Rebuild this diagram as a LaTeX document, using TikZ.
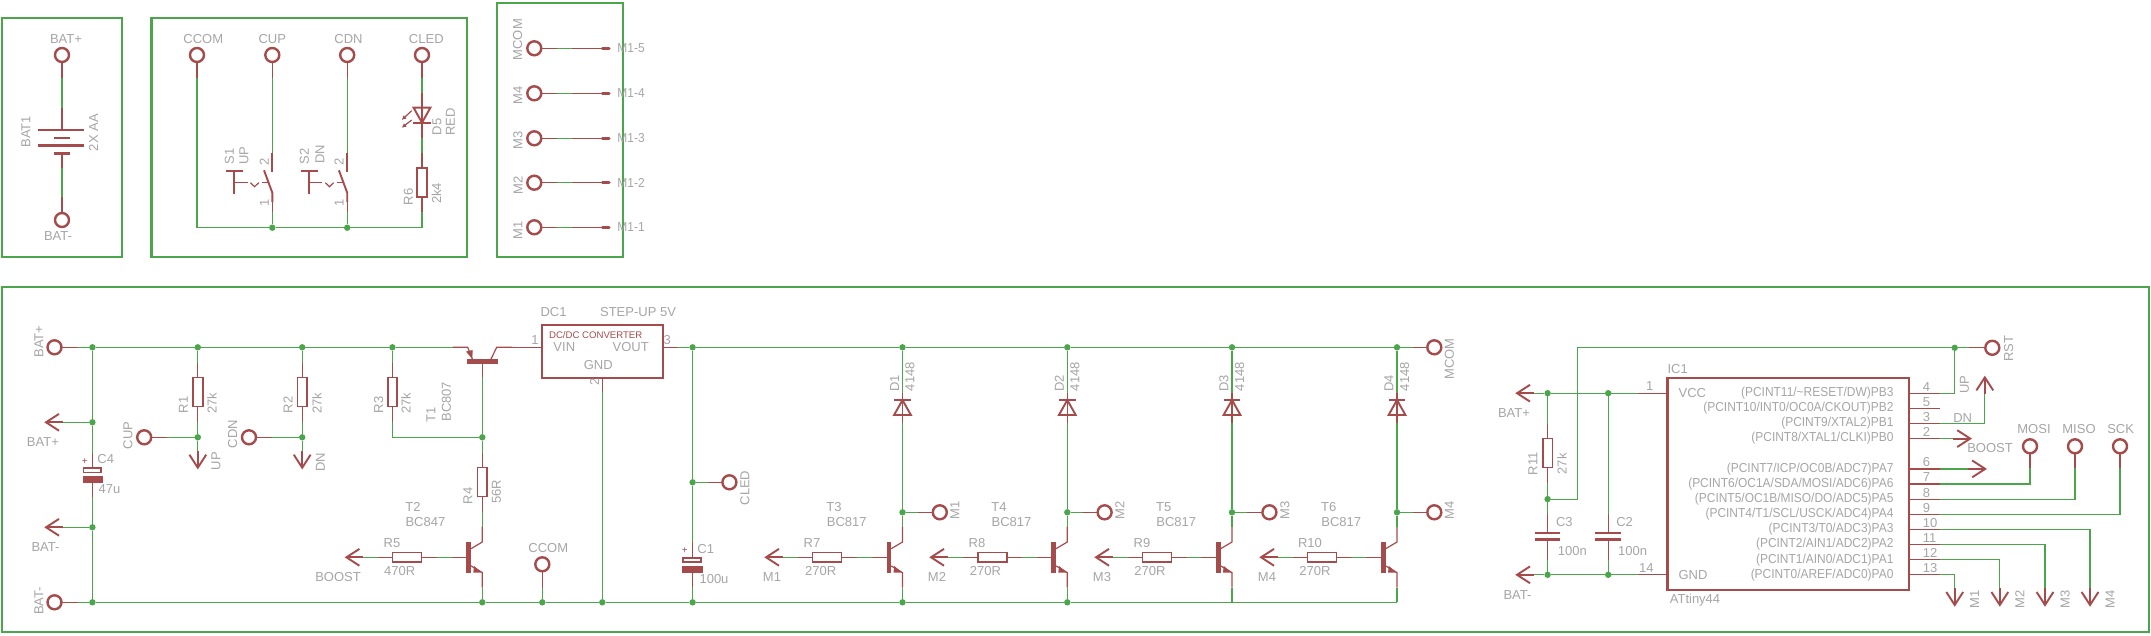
\documentclass[tikz,border=0pt]{standalone}
\usepackage{fontspec}
\setmainfont{Liberation Sans}
\newfontfamily\portfont[FakeStretch=0.92]{Liberation Sans}
\usetikzlibrary{arrows.meta}
\definecolor{netgreen}{HTML}{4BA54B}
\definecolor{partred}{HTML}{A54B4B}
\definecolor{labelgray}{HTML}{A5A5A5}
\tikzset{
  sheetframe/.style={draw=netgreen, line width=2.2},
  wire/.style={draw=netgreen, line width=1.2},
  pinline/.style={draw=partred, line width=1.2},
  symline/.style={draw=partred, line width=1.9},
  padring/.style={circle, draw=partred, line width=2.4, minimum size=14, inner sep=0, outer sep=0},
  junction/.style={circle, fill=netgreen, minimum size=6.4, inner sep=0, outer sep=0},
  resvbody/.style={draw=partred, line width=1.8, minimum width=9.6, minimum height=29, inner sep=0, outer sep=0},
  reshbody/.style={draw=partred, line width=1.8, minimum width=29, minimum height=9.6, inner sep=0, outer sep=0},
  partbox/.style={draw=partred, line width=2.2, inner sep=0, outer sep=0},
  lbl/.style={text=labelgray, font=\fontsize{13}{15}\selectfont, inner sep=0},
  lblr/.style={lbl, rotate=90},
  polsign/.style={text=partred, font=\fontsize{10}{11}\selectfont, inner sep=0}
}
% pad with its pin: name, x, y, x and y of the pin end
\newcommand{\padpin}[5]{\node[padring] (#1) at (#2,#3) {};
  \coordinate (#1-w) at (#4,#5);
  \draw[pinline] (#1) -- (#1-w);}
% upright resistor: name, x, y
\newcommand{\resv}[3]{\node[resvbody] (#1) at (#2,#3) {};
  \draw[pinline] (#1.north) -- ++(0,-15) coordinate (#1-a);
  \draw[pinline] (#1.south) -- ++(0,15) coordinate (#1-b);}
% lying resistor: name, x, y
\newcommand{\resh}[3]{\node[reshbody] (#1) at (#2,#3) {};
  \draw[pinline] (#1.west) -- ++(-15,0) coordinate (#1-a);
  \draw[pinline] (#1.east) -- ++(15,0) coordinate (#1-b);}
% open arrow pin: name, tip x, tip y, angle
\newcommand{\arrowpin}[4]{\begin{scope}[shift={(#2,#3)},rotate=#4]
  \draw[symline] (13,-8.4) -- (0,0) -- (13,8.4);
  \draw[symline] (0,0) -- (17,0);
  \coordinate (#1-w) at (17,0);
  \end{scope}}
% npn transistor: name, x of collector and emitter, y of base
\newcommand{\npn}[3]{\begin{scope}[shift={(#2,#3)}]
  \fill[partred] (-16,-15.3) rectangle (-11.3,15.3);
  \draw[pinline] (-11.3,-8.6) -- (0,-15.3) -- (0,-30.6) coordinate (#1-c);
  \draw[pinline] (-11.3,8.6) -- (0,15.3) -- (0,30.4) coordinate (#1-e);
  \draw[pinline] (-16,0) -- (-30.6,0) coordinate (#1-b);
  \fill[partred] (-8.3,8.7) -- (0,15.4) -- (-9,15.4) -- cycle;
  \end{scope}}
% diode, bar on top: name, x
\newcommand{\diodeup}[2]{\coordinate (#1-a) at (#2,392.7);
  \coordinate (#1-b) at (#2,422.7);
  \draw[pinline] (#1-a) -- (#1-b);
  \draw[symline] (#2-8.4,400) -- (#2+8.4,400);
  \draw[symline] (#2,400) -- (#2-8.4,415) -- (#2+8.4,415) -- cycle;}
% push switch: name, x of the contact
\newcommand{\pushsw}[2]{\begin{scope}[shift={(#2,0)}]
  \coordinate (#1-t) at (0,153.3);
  \coordinate (#1-b) at (0,212.3);
  \draw[symline] (#1-t) -- (0,172);
  \draw[symline] (-8.3,170.3) -- (0,192.7) -- (0,202);
  \draw[pinline] (0,202) -- (#1-b);
  \draw[symline] (-45.9,171) -- (-29.5,171);
  \draw[symline] (-38.3,171) -- (-38.3,194.3);
  \draw[pinline] (-38.3,182.7) -- (-24.8,182.7);
  \draw[pinline] (-21.9,182.7) -- (-17.7,186.7) -- (-13.5,182.7);
  \draw[pinline] (-10.3,182.7) -- (-2.9,182.7);
  \end{scope}}
% ic pin on the right side: name, y, number, port text
\newcommand{\icpin}[4]{\coordinate (#1) at (1940,#2);
  \draw[pinline] (1909,#2) -- (#1);
  \node[lbl, anchor=west] (#1-n) at (1922.7,#2-6.5) {#3};
  \node[lbl, anchor=east] (#1-t) at (1893.6,#2) {\portfont #4};}
% motor header line: name, y, text
\newcommand{\mline}[3]{\padpin{#1}{534.3}{#2}{557.3}{#2}
  \coordinate (#1-h) at (572.3,#2);
  \draw[wire] (#1-w) -- (#1-h);
  \draw[pinline] (#1-h) -- (600.7,#2);
  \draw[partred, line width=3.4, line cap=round] (602.4,#2) -- (609,#2);
  \node[lbl, anchor=west] (#1-t) at (617.2,#2) {\portfont #3};}

\begin{document}
\begin{tikzpicture}[x=1pt,y=-1pt]
\useasboundingbox (0,0) rectangle (2151,636);
\draw[sheetframe] (2,18) rectangle (122,256.7);
\draw[sheetframe] (151.5,18) rectangle (467,256.7);
\draw[sheetframe] (496.6,2.8) rectangle (623,256.7);
\draw[sheetframe] (2,286.7) rectangle (2149,631.7);

% battery
\padpin{batp}{62}{55}{62}{78}
\padpin{batm}{62}{220}{62}{197}
\node[lbl] (batpt) at (66,39) {BAT+};
\node[lbl] (batmt) at (58,236) {BAT-};
\coordinate (bat-a) at (62,108);
\coordinate (bat-b) at (62,168);
\draw[wire] (batp-w) -- (bat-a);
\draw[wire] (bat-b) -- (batm-w);
\draw[pinline] (bat-a) -- (62,130);
\draw[pinline] (62,153.3) -- (bat-b);
\draw[partred, line width=2.8] (38,130) -- (84,130);
\draw[partred, line width=2.8] (53.5,138) -- (69.5,138);
\draw[partred, line width=2.8] (38,145.3) -- (84,145.3);
\draw[partred, line width=2.8] (53.5,153.3) -- (69.5,153.3);
\node[lblr] (bat1t) at (26,131.7) {BAT1};
\node[lblr] (bat1v) at (93.5,132.7) {2X AA};

% controls
\padpin{sccom}{197}{55}{197}{78}
\padpin{scup}{272.3}{55}{272.3}{78}
\padpin{scdn}{347.2}{55}{347.2}{78}
\padpin{scled}{422}{55}{422}{78}
\node[lbl] (sccomt) at (203.3,39) {CCOM};
\node[lbl] (scupt) at (272.3,39) {CUP};
\node[lbl] (scdnt) at (348.5,39) {CDN};
\node[lbl] (scledt) at (426.3,39) {CLED};
\pushsw{s1}{272.3}
\pushsw{s2}{347.2}
\node[lblr] (s1t) at (229.4,156.7) {S1};
\node[lblr] (s1v) at (244,155.7) {UP};
\node[lblr] (s1p2) at (264.3,161.7) {2};
\node[lblr] (s1p1) at (264.3,203.3) {1};
\node[lblr] (s2t) at (304.3,156.7) {S2};
\node[lblr] (s2v) at (319.9,154) {DN};
\node[lblr] (s2p2) at (339.2,161.7) {2};
\node[lblr] (s2p1) at (339.2,203.3) {1};
\coordinate (d5-a) at (422,93.3);
\coordinate (d5-b) at (422,138.3);
\draw[pinline] (d5-a) -- (d5-b);
\draw[symline] (413.6,107.7) -- (430.4,107.7) -- (422,122.7) -- cycle;
\draw[symline] (413.4,122.7) -- (430.6,122.7);
\draw[partred, line width=1.2, -{Latex[length=4.5,width=4.5]}] (411.7,110.7) -- (401.7,120);
\draw[partred, line width=1.2, -{Latex[length=4.5,width=4.5]}] (411.7,120) -- (401.7,127.8);
\node[lblr] (d5t) at (437,126.7) {D5};
\node[lblr] (d5v) at (450.3,122) {RED};
\resv{r6}{422}{182.3}
\node[lblr] (r6t) at (408.3,196.7) {R6};
\node[lblr] (r6v) at (436.3,193.3) {2k4};
\node[junction] (jsw1) at (272.3,227.7) {};
\node[junction] (jsw2) at (347.2,227.7) {};
\draw[wire] (sccom-w) |- (jsw1) -- (jsw2) -| (r6-b);
\draw[wire] (scup-w) -- (s1-t);
\draw[wire] (scdn-w) -- (s2-t);
\draw[wire] (s1-b) -- (jsw1);
\draw[wire] (s2-b) -- (jsw2);
\draw[wire] (scled-w) -- (d5-a);
\draw[wire] (d5-b) -- (r6-a);

% motor header
\mline{m5}{48.3}{M1-5}
\mline{m4}{93.3}{M1-4}
\mline{m3}{138.3}{M1-3}
\mline{m2}{182.7}{M1-2}
\mline{m1}{227.3}{M1-1}
\node[lblr] (m5n) at (517.7,39.7) {MCOM};
\node[lblr] (m4n) at (518,95.3) {M4};
\node[lblr] (m3n) at (518,140.7) {M3};
\node[lblr] (m2n) at (518,185.7) {M2};
\node[lblr] (m1n) at (518,230.7) {M1};

% input side
\padpin{pbatp}{54.5}{347.3}{78}{347.3}
\padpin{pbatm}{54.5}{602.3}{78}{602.3}
\node[lblr] (pbatpt) at (38.8,341.7) {BAT+};
\node[lblr] (pbatmt) at (38.8,601) {BAT-};
\node[junction] (jt1) at (92.4,347.3) {};
\node[junction] (jt2) at (197.8,347.3) {};
\node[junction] (jt3) at (302.2,347.3) {};
\node[junction] (jt4) at (392.4,347.3) {};
\node[junction] (jb1) at (92.4,602.3) {};
\node[junction] (jb2) at (482.3,602.3) {};
\node[junction] (jb3) at (542.3,602.3) {};
\node[junction] (jb4) at (602.3,602.3) {};
\node[junction] (jb5) at (692.6,602.3) {};
\node[junction] (jb6) at (902.5,602.3) {};
\node[junction] (jb7) at (1067.3,602.3) {};
\coordinate (jb8) at (1232,602.3);
\coordinate (jb9) at (1397,602.3);
\node[junction] (jbp) at (92.4,422.3) {};
\node[junction] (jbm) at (92.4,527.3) {};
\arrowpin{abp}{46}{422.3}{0}
\arrowpin{abm}{46}{527.3}{0}
\node[lbl] (abpt) at (42.9,442.3) {BAT+};
\node[lbl] (abmt) at (45.5,547) {BAT-};
\draw[wire] (abp-w) -- (jbp);
\draw[wire] (abm-w) -- (jbm);
\coordinate (c4-a) at (92.4,453.3);
\coordinate (c4-b) at (92.4,496.7);
\draw[pinline] (c4-a) -- (92.4,466.7);
\draw[pinline] (92.4,476) -- (c4-b);
\draw[partred, line width=1.8] (83.5,467.6) rectangle (101.3,472.4);
\fill[partred] (82.6,476) rectangle (103,482.7);
\node[polsign] (c4p) at (84.8,461.7) {+};
\node[lbl] (c4t) at (105.8,459.3) {C4};
\node[lbl] (c4v) at (109.4,489.3) {47u};
\draw[wire] (jt1) -- (jbp) -- (c4-a);
\draw[wire] (c4-b) -- (jbm) -- (jb1);

% divider resistors
\resv{r1}{197.8}{392}
\resv{r2}{302.2}{392}
\resv{r3}{392.4}{392}
\node[lblr] (r1t) at (183.5,405) {R1};
\node[lblr] (r1v) at (212,403.3) {27k};
\node[lblr] (r2t) at (288,405) {R2};
\node[lblr] (r2v) at (317,403.3) {27k};
\node[lblr] (r3t) at (378.6,405) {R3};
\node[lblr] (r3v) at (406,403.3) {27k};
\node[junction] (ju1) at (197.8,437.3) {};
\node[junction] (ju2) at (302.2,437.3) {};
\node[junction] (ju3) at (482.3,437.3) {};
\padpin{pcup}{144.2}{437.3}{167.4}{437.3}
\padpin{pcdn}{249}{437.3}{272.3}{437.3}
\node[lblr] (pcupt) at (128,435.3) {CUP};
\node[lblr] (pcdnt) at (232.6,434) {CDN};
\arrowpin{aup}{197.8}{467.7}{90}
\arrowpin{adn}{302.2}{467.7}{90}
\node[lblr] (aupt) at (216,461) {UP};
\node[lblr] (adnt) at (320.5,462) {DN};
\draw[wire] (jt2) -- (r1-a);
\draw[wire] (jt3) -- (r2-a);
\draw[wire] (jt4) -- (r3-a);
\draw[wire] (r1-b) -- (ju1) -- (aup-w);
\draw[wire] (r2-b) -- (ju2) -- (adn-w);
\draw[wire] (pcup-w) -- (ju1);
\draw[wire] (pcdn-w) -- (ju2);
\draw[wire] (r3-b) |- (ju3);

% T1 and T2
\coordinate (t1-e) at (452.7,347.3);
\coordinate (t1-c) at (512.3,347.3);
\coordinate (t1-b) at (482.3,377.3);
\fill[partred] (467,359) rectangle (498,363.7);
\draw[pinline] (t1-e) -- (467.7,347.3) -- (472.3,359);
\draw[pinline] (t1-c) -- (496.7,347.3) -- (491,359);
\draw[pinline] (482.3,363.7) -- (t1-b);
\fill[partred] (466,351.6) -- (472.7,350) -- (472.3,359) -- cycle;
\node[lblr] (t1t) at (431,415) {T1};
\node[lblr] (t1v) at (446.4,401.7) {BC807};
\resv{r4}{482.3}{482}
\node[lblr] (r4t) at (467.9,496) {R4};
\node[lblr] (r4v) at (496.4,491.7) {56R};
\npn{t2}{482.3}{557.3}
\resh{r5}{407}{557.3}
\arrowpin{aboost}{346.4}{557.3}{0}
\node[lbl] (t2t) at (413,507) {T2};
\node[lbl] (t2v) at (425.4,522) {BC847};
\node[lbl] (r5t) at (392,543.3) {R5};
\node[lbl] (r5v) at (399.6,571) {470R};
\node[lbl] (aboostt) at (338,576.7) {BOOST};
\draw[wire] (jt1) -- (jt2) -- (jt3) -- (jt4) -- (t1-e);
\draw[wire] (pbatp-w) -- (jt1);
\draw[wire] (t1-b) -- (ju3) -- (r4-a);
\draw[wire] (r4-b) -- (t2-c);
\draw[wire] (t2-e) -- (jb2);
\draw[wire] (t2-b) -- (r5-b);
\draw[wire] (r5-a) -- (aboost-w);
\padpin{pccom}{542.3}{564.3}{542.3}{587.7}
\node[lbl] (pccomt) at (548.3,547.7) {CCOM};
\draw[wire] (pccom-w) -- (jb3);

% converter
\node[partbox, minimum width=121, minimum height=52.7] (dc1) at (602.8,351.35) {};
\coordinate (dc1-o) at (677.7,347.3);
\coordinate (dc1-g) at (602.3,392.3);
\draw[pinline] (t1-c) -- (542.3,347.3);
\draw[pinline] (663.3,347.3) -- (dc1-o);
\draw[pinline] (602.3,377.7) -- (dc1-g);
\node[text=partred, font=\fontsize{9.6}{11}\selectfont, inner sep=0] (dc1n) at (595.7,335.3) {DC/DC CONVERTER};
\node[lbl] (dc1vin) at (564.3,347.3) {VIN};
\node[lbl] (dc1vout) at (630.7,347.3) {VOUT};
\node[lbl] (dc1gnd) at (598.3,365.3) {GND};
\node[lbl] (dc1p1) at (535,340.3) {1};
\node[lbl] (dc1p3) at (667.3,340.3) {3};
\node[lblr] (dc1p2) at (594.7,382.3) {2};
\node[lbl] (dc1t) at (553.6,312) {DC1};
\node[lbl] (dc1v) at (638,312) {STEP-UP 5V};
\draw[wire] (dc1-g) -- (jb4);

% output side
\node[junction] (jo1) at (692.6,347.3) {};
\node[junction] (jo2) at (902.5,347.3) {};
\node[junction] (jo3) at (1067.3,347.3) {};
\node[junction] (jo4) at (1232,347.3) {};
\node[junction] (jo5) at (1397,347.3) {};
\node[junction] (jled) at (692.6,482.3) {};
\padpin{pmcom}{1434.3}{347.3}{1413}{347.3}
\node[lblr] (pmcomt) at (1449.5,359) {MCOM};
\padpin{pcled}{729.4}{482.3}{708}{482.3}
\node[lblr] (pcledt) at (745,488) {CLED};
\draw[wire] (pcled-w) -- (jled);
\coordinate (c1-a) at (692.6,541.7);
\coordinate (c1-b) at (692.6,586.7);
\draw[pinline] (c1-a) -- (692.6,556.7);
\draw[pinline] (692.6,566) -- (c1-b);
\draw[partred, line width=1.8] (682.9,557.6) rectangle (700.9,561.8);
\fill[partred] (682,566) rectangle (702.8,573);
\node[polsign] (c1p) at (684.8,550.7) {+};
\node[lbl] (c1t) at (705.7,549) {C1};
\node[lbl] (c1v) at (714,579.3) {100u};
\draw[wire] (dc1-o) -- (jo1) -- (jo2) -- (jo3) -- (jo4) -- (jo5) -- (pmcom-w);
\draw[wire] (jo1) -- (jled) -- (c1-a);
\draw[wire] (c1-b) -- (jb5);
\draw[wire] (pbatm-w) -- (jb1) -- (jb2) -- (jb3) -- (jb4) -- (jb5) -- (jb6) -- (jb7) -- (jb8) -- (jb9);

% drivers
\diodeup{d1}{902.5}
\npn{t3}{902.5}{557.3}
\resh{r7}{827}{557.3}
\arrowpin{am1}{766}{557.3}{0}
\node[junction] (jm1) at (902.5,512.3) {};
\padpin{pm1}{939.8}{512.3}{917.5}{512.3}
\node[lblr] (pm1t) at (954.8,510.7) {M1};
\node[lblr] (d1t) at (894.7,383.3) {D1};
\node[lblr] (d1v) at (910,376.7) {4148};
\node[lbl] (t3t) at (834,507.3) {T3};
\node[lbl] (t3v) at (846.7,522) {BC817};
\node[lbl] (r7t) at (812,543.3) {R7};
\node[lbl] (r7v) at (820.6,571) {270R};
\node[lbl] (am1t) at (772,577.3) {M1};
\draw[wire] (jo2) -- (d1-a);
\draw[wire] (d1-b) -- (jm1) -- (t3-c);
\draw[wire] (t3-e) -- (jb6);
\draw[wire] (t3-b) -- (r7-b);
\draw[wire] (r7-a) -- (am1-w);
\draw[wire] (jm1) -- (pm1-w);

\diodeup{d2}{1067.3}
\npn{t4}{1067.3}{557.3}
\resh{r8}{992.2}{557.3}
\arrowpin{am2}{931}{557.3}{0}
\node[junction] (jm2) at (1067.3,512.3) {};
\padpin{pm2}{1104.6}{512.3}{1082.3}{512.3}
\node[lblr] (pm2t) at (1119.7,510.7) {M2};
\node[lblr] (d2t) at (1059.3,383.3) {D2};
\node[lblr] (d2v) at (1075,376.7) {4148};
\node[lbl] (t4t) at (999,507.3) {T4};
\node[lbl] (t4v) at (1011.5,522) {BC817};
\node[lbl] (r8t) at (977,543.3) {R8};
\node[lbl] (r8v) at (985.4,571) {270R};
\node[lbl] (am2t) at (937,577.3) {M2};
\draw[wire] (jo3) -- (d2-a);
\draw[wire] (d2-b) -- (jm2) -- (t4-c);
\draw[wire] (t4-e) -- (jb7);
\draw[wire] (t4-b) -- (r8-b);
\draw[wire] (r8-a) -- (am2-w);
\draw[wire] (jm2) -- (pm2-w);

\diodeup{d3}{1232}
\npn{t5}{1232}{557.3}
\resh{r9}{1157}{557.3}
\arrowpin{am3}{1096}{557.3}{0}
\node[junction] (jm3) at (1232,512.3) {};
\padpin{pm3}{1269.4}{512.3}{1247}{512.3}
\node[lblr] (pm3t) at (1285,510.7) {M3};
\node[lblr] (d3t) at (1224,383.3) {D3};
\node[lblr] (d3v) at (1239.7,376.7) {4148};
\node[lbl] (t5t) at (1163.7,507.3) {T5};
\node[lbl] (t5v) at (1176.2,522) {BC817};
\node[lbl] (r9t) at (1142,543.3) {R9};
\node[lbl] (r9v) at (1150,571) {270R};
\node[lbl] (am3t) at (1102,577.3) {M3};
\draw[wire] (jo4) -- (d3-a);
\draw[wire] (d3-b) -- (jm3) -- (t5-c);
\draw[wire] (t5-e) -- (jb8);
\draw[wire] (t5-b) -- (r9-b);
\draw[wire] (r9-a) -- (am3-w);
\draw[wire] (jm3) -- (pm3-w);

\diodeup{d4}{1397}
\npn{t6}{1397}{557.3}
\resh{r10}{1322}{557.3}
\arrowpin{am4}{1261}{557.3}{0}
\node[junction] (jm4) at (1397,512.3) {};
\padpin{pm4}{1434.3}{512.3}{1413}{512.3}
\node[lblr] (pm4t) at (1449.5,510.7) {M4};
\node[lblr] (d4t) at (1389,383.3) {D4};
\node[lblr] (d4v) at (1404.7,376.7) {4148};
\node[lbl] (t6t) at (1328.7,507.3) {T6};
\node[lbl] (t6v) at (1341.2,522) {BC817};
\node[lbl] (r10t) at (1310,543.3) {R10};
\node[lbl] (r10v) at (1315,571) {270R};
\node[lbl] (am4t) at (1267,577.3) {M4};
\draw[wire] (jo5) -- (d4-a);
\draw[wire] (d4-b) -- (jm4) -- (t6-c);
\draw[wire] (t6-e) -- (jb9);
\draw[wire] (t6-b) -- (r10-b);
\draw[wire] (r10-a) -- (am4-w);
\draw[wire] (jm4) -- (pm4-w);

% controller
\node[partbox, minimum width=241.5, minimum height=211.9] (ic1) at (1788.25,483.65) {};
\node[lbl] (ic1t) at (1677.7,369) {IC1};
\node[lbl] (ic1v) at (1695,600) {ATtiny44};
\node[lbl] (icvcc) at (1692.3,393.2) {VCC};
\node[lbl] (icgnd) at (1693,574.8) {GND};
\coordinate (p1) at (1638.3,393.2);
\coordinate (p14) at (1638.3,574.8);
\draw[pinline] (1667.5,393.2) -- (p1);
\draw[pinline] (1667.5,574.8) -- (p14);
\node[lbl] (p1n) at (1649.8,386.5) {1};
\node[lbl] (p14n) at (1646.3,568) {14};
\icpin{p4}{393.2}{4}{(PCINT11/\textasciitilde RESET/DW)PB3}
\icpin{p5}{408.3}{5}{(PCINT10/INT0/OC0A/CKOUT)PB2}
\icpin{p3}{423.4}{3}{(PCINT9/XTAL2)PB1}
\icpin{p2}{438.6}{2}{(PCINT8/XTAL1/CLKI)PB0}
\icpin{p6}{468.9}{6}{(PCINT7/ICP/OC0B/ADC7)PA7}
\icpin{p7}{484}{7}{(PCINT6/OC1A/SDA/MOSI/ADC6)PA6}
\icpin{p8}{499.1}{8}{(PCINT5/OC1B/MISO/DO/ADC5)PA5}
\icpin{p9}{514.3}{9}{(PCINT4/T1/SCL/USCK/ADC4)PA4}
\icpin{p10}{529.4}{10}{(PCINT3/T0/ADC3)PA3}
\icpin{p11}{544.5}{11}{(PCINT2/AIN1/ADC2)PA2}
\icpin{p12}{559.7}{12}{(PCINT1/AIN0/ADC1)PA1}
\icpin{p13}{574.8}{13}{(PCINT0/AREF/ADC0)PA0}

% supply of the controller
\arrowpin{icbp}{1517}{393.2}{0}
\arrowpin{icbm}{1517}{574.8}{0}
\node[lbl] (icbpt) at (1514,413.4) {BAT+};
\node[lbl] (icbmt) at (1517.5,595) {BAT-};
\node[junction] (jv1) at (1547.6,393.2) {};
\node[junction] (jv2) at (1608.2,393.2) {};
\node[junction] (jg1) at (1547.6,574.8) {};
\node[junction] (jg2) at (1608.2,574.8) {};
\node[junction] (jr1) at (1547.6,499.1) {};
\node[junction] (jr2) at (1954.7,347.8) {};
\resv{r11}{1547.6}{453}
\node[lblr] (r11t) at (1533,463.8) {R11};
\node[lblr] (r11v) at (1561.8,463.8) {27k};
\coordinate (c3-a) at (1547.6,514.3);
\coordinate (c3-b) at (1547.6,559.7);
\coordinate (c2-a) at (1608.2,514.3);
\coordinate (c2-b) at (1608.2,559.7);
\draw[pinline] (c3-a) -- (1547.6,532.8);
\draw[pinline] (1547.6,539.5) -- (c3-b);
\draw[pinline] (c2-a) -- (1608.2,532.8);
\draw[pinline] (1608.2,539.5) -- (c2-b);
\draw[partred, line width=2.6] (1535.2,532.8) -- (1560.4,532.8);
\draw[partred, line width=2.6] (1535.2,539.5) -- (1560.4,539.5);
\draw[partred, line width=2.6] (1595.4,532.8) -- (1620.6,532.8);
\draw[partred, line width=2.6] (1595.4,539.5) -- (1620.6,539.5);
\node[lbl] (c3t) at (1564.4,522) {C3};
\node[lbl] (c3v) at (1572.4,551.3) {100n};
\node[lbl] (c2t) at (1624.6,522) {C2};
\node[lbl] (c2v) at (1632.6,551.3) {100n};
\draw[wire] (icbp-w) -- (jv1) -- (jv2) -- (p1);
\draw[wire] (icbm-w) -- (jg1) -- (jg2) -- (p14);
\draw[wire] (jv1) -- (r11-a);
\draw[wire] (r11-b) -- (jr1) -- (c3-a);
\draw[wire] (c3-b) -- (jg1);
\draw[wire] (jv2) -- (c2-a);
\draw[wire] (c2-b) -- (jg2);

% reset and port wires
\padpin{prst}{1992.3}{347.8}{1968.8}{347.8}
\node[lblr] (prstt) at (2008.7,348.8) {RST};
\draw[wire] (jr1) -| (1577.7,347.8) -- (jr2) -- (prst-w);
\draw[wire] (p4) -| (jr2);
\arrowpin{aup2}{1984.8}{377.4}{-90}
\node[lblr] (aup2t) at (1964.4,384.8) {UP};
\node[lbl] (p3d) at (1962.7,418) {DN};
\draw[wire] (p3) -| (aup2-w);
\arrowpin{abst}{1970.2}{438.6}{180}
\node[lbl] (abstt) at (1990,448.3) {BOOST};
\draw[wire] (p2) -- (abst-w);
\arrowpin{ap6}{1985.2}{468.9}{180}
\draw[wire] (p6) -- (ap6-w);
\padpin{pmosi}{2030}{446.3}{2030}{468.2}
\padpin{pmiso}{2075}{446.3}{2075}{468.2}
\padpin{psck}{2120}{446.3}{2120}{468.2}
\node[lbl] (pmosit) at (2034,429) {MOSI};
\node[lbl] (pmisot) at (2079,429) {MISO};
\node[lbl] (psckt) at (2120.6,429) {SCK};
\draw[wire] (p7) -| (pmosi-w);
\draw[wire] (p8) -| (pmiso-w);
\draw[wire] (p9) -| (psck-w);
\arrowpin{aic4}{2090}{605}{90}
\arrowpin{aic3}{2045}{605}{90}
\arrowpin{aic2}{1999.8}{605}{90}
\arrowpin{aic1}{1954.7}{605}{90}
\node[lblr] (aic4t) at (2110,599.4) {M4};
\node[lblr] (aic3t) at (2065,599.4) {M3};
\node[lblr] (aic2t) at (2019.7,599.4) {M2};
\node[lblr] (aic1t) at (1974.6,599.4) {M1};
\draw[wire] (p10) -| (aic4-w);
\draw[wire] (p11) -| (aic3-w);
\draw[wire] (p12) -| (aic2-w);
\draw[wire] (p13) -| (aic1-w);
\end{tikzpicture}
\end{document}
